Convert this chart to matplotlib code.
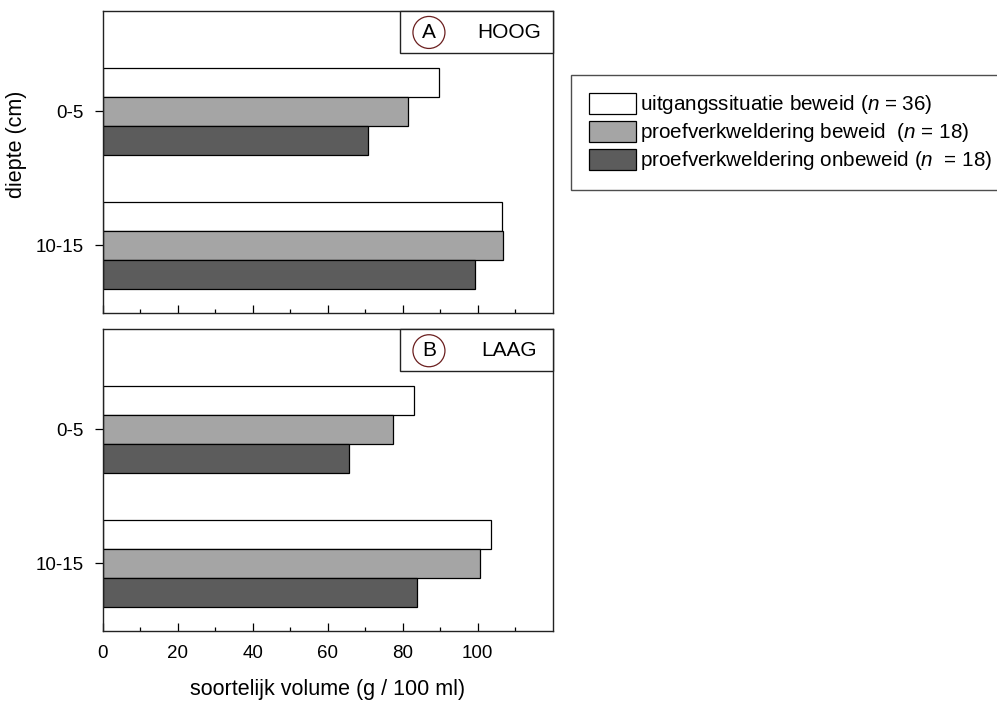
import matplotlib
matplotlib.use("Agg")
import matplotlib.pyplot as plt
from matplotlib.patches import Rectangle, Ellipse, Patch
import numpy as np

plt.rcParams['font.family'] = ['Liberation Sans', 'DejaVu Sans']
plt.rcParams['mathtext.fontset'] = 'custom'
plt.rcParams['mathtext.it'] = 'Liberation Sans:italic'
plt.rcParams['mathtext.rm'] = 'Liberation Sans'

# ---- data ----
depths = ["0-5", "10-15"]
series_names = ["uitgangssituatie beweid ($n$ = 36)",
                "proefverkweldering beweid  ($n$ = 18)",
                "proefverkweldering onbeweid ($n$  = 18)"]
panel_letters = ["A", "B"]
panel_titles = ["HOOG", "LAAG"]
hoog_uitgang = [89.8, 106.6]
hoog_beweid = [81.4, 106.8]
hoog_onbeweid = [70.8, 99.2]
laag_uitgang = [83.1, 103.6]
laag_beweid = [77.4, 100.7]
laag_onbeweid = [65.6, 83.7]
xticks = [0, 20, 40, 60, 80, 100]

colors = ["#ffffff", "#a5a5a5", "#5c5c5c"]
W, H = 997, 704
fig = plt.figure(figsize=(W / 100, H / 100), dpi=100)

def fx(px):
    return px / W

def fy(py):
    return 1 - py / H

ax_left, ax_right = 102.7, 552.7
panels = [(10.7, 312.7), (329.0, 631.0)]
data = [[hoog_uitgang, hoog_beweid, hoog_onbeweid],
        [laag_uitgang, laag_beweid, laag_onbeweid]]

bh = 0.2164
axes = []
for i, (top, bot) in enumerate(panels):
    ax = fig.add_axes([fx(ax_left), fy(bot), fx(ax_right - ax_left), (bot - top) / H])
    axes.append(ax)
    y = np.arange(len(depths))
    for k, vals in enumerate(data[i]):
        ax.barh(y + (k - 1) * bh, vals, height=bh, color=colors[k],
                edgecolor="black", linewidth=0.9, zorder=2)
    ax.set_xlim(0, 120)
    ax.set_ylim(1.505, -0.75)
    ax.set_yticks(y)
    ax.set_yticklabels(depths, fontsize=13.5)
    ax.set_xticks(xticks)
    ax.set_xticks(np.arange(10, 120, 20), minor=True)
    ax.tick_params(axis='x', which='major', direction='in', length=5.5, width=0.9,
                   pad=10, labelsize=13.5, top=False)
    ax.tick_params(axis='x', which='minor', direction='in', length=2.7, width=0.9, top=False)
    ax.tick_params(axis='y', which='major', direction='out', length=5.5, width=0.9,
                   pad=8, right=False)
    if i == 0:
        ax.tick_params(axis='x', labelbottom=False)
    for s in ax.spines.values():
        s.set_linewidth(1.0)
        s.set_color("#222222")
    # label box
    ax.add_patch(Rectangle((0.661, 0.861), 0.339, 0.139, transform=ax.transAxes,
                           facecolor="white", edgecolor="#222222", linewidth=1.0,
                           zorder=3, clip_on=False))
    axw = ax_right - ax_left
    axh = bot - top
    ax.add_patch(Ellipse((0.725, 0.928), 32 / axw, 32 / axh, transform=ax.transAxes,
                         facecolor="none", edgecolor="#6b1f1f", linewidth=0.9, zorder=4))
    ax.text(0.725, 0.928, panel_letters[i], transform=ax.transAxes, ha="center",
            va="center", fontsize=15, zorder=5)
    ax.text(0.903, 0.928, panel_titles[i], transform=ax.transAxes, ha="center",
            va="center", fontsize=15, zorder=5)

axes[1].set_xticklabels([str(t) for t in xticks])

fig.text(fx(17), fy(144), "diepte (cm)", rotation=90, ha="center", va="center", fontsize=15.5)
fig.text(fx((ax_left + ax_right) / 2), fy(690), "soortelijk volume (g / 100 ml)",
         ha="center", va="center", fontsize=15.5)

handles = [Patch(facecolor=c, edgecolor="black", linewidth=0.9) for c in colors]
leg = fig.legend(handles, series_names, loc="upper left",
                 bbox_to_anchor=(fx(571), fy(75)), borderaxespad=0,
                 fontsize=14.9, handlelength=2.3, handleheight=1.2,
                 labelspacing=0.22, handletextpad=0.2, borderpad=0.85,
                 fancybox=False, frameon=True)
leg.get_frame().set_edgecolor("#222222")
leg.get_frame().set_linewidth(1.0)

fig.savefig("out.png", dpi=100)
